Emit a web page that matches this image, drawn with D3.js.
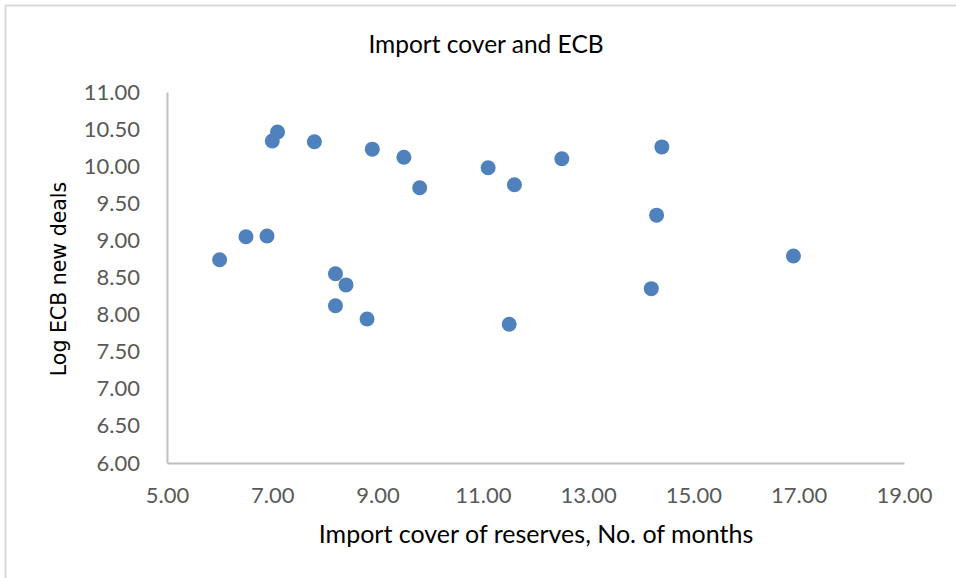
<!DOCTYPE html>
<html><head><meta charset="utf-8">
<script src="https://cdn.jsdelivr.net/npm/d3@7"></script>
<style>body{margin:0;background:#fff;}svg{display:block;}</style>
</head><body>
<script>
const xValues = [6.0, 6.5, 6.9, 7.0, 7.1, 7.8, 8.9, 9.5, 9.8, 8.2, 8.4, 8.2, 8.8, 11.1, 11.6, 11.5, 12.5, 14.4, 14.3, 14.2, 16.9];
const yValues = [8.74, 9.05, 9.06, 10.34, 10.46, 10.33, 10.23, 10.12, 9.71, 8.55, 8.40, 8.12, 7.94, 9.98, 9.75, 7.87, 10.10, 10.26, 9.34, 8.35, 8.79];
const xTicks = [5, 7, 9, 11, 13, 15, 17, 19];
const yTicks = [6, 6.5, 7, 7.5, 8, 8.5, 9, 9.5, 10, 10.5, 11];
const titleText = "Import cover and ECB";
const xTitle = "Import cover of reserves, No. of months";
const yTitle = "Log ECB new deals";

const W = 956, H = 578;
const svg = d3.select("body").append("svg").attr("width", W).attr("height", H);
svg.append("rect").attr("x", 5.5).attr("y", 5.5).attr("width", 980).attr("height", 600)
  .attr("fill", "#fff").attr("stroke", "#d9d9d9").attr("stroke-width", 2);

const x = d3.scaleLinear().domain([5, 19]).range([167, 904]);
const y = d3.scaleLinear().domain([6, 11]).range([463, 92]);
const font = "Lato, 'Open Sans', sans-serif";

const gx = svg.append("g").attr("transform", "translate(0,463)")
  .call(d3.axisBottom(x).tickValues(xTicks).tickFormat(d3.format(".2f")).tickSize(0).tickPadding(24));
gx.select(".domain").attr("stroke", "#bfbfbf").attr("stroke-width", 2);
gx.selectAll("text").attr("fill", "#595959").attr("font-size", 22).attr("font-family", font);

const gy = svg.append("g").attr("transform", "translate(167,0)")
  .call(d3.axisLeft(y).tickValues(yTicks).tickFormat(d3.format(".2f")).tickSize(0).tickPadding(27));
gy.select(".domain").attr("stroke", "#bfbfbf").attr("stroke-width", 2);
gy.selectAll("text").attr("fill", "#595959").attr("font-size", 22).attr("font-family", font);

svg.append("g").selectAll("circle").data(xValues.map((v, i) => [v, yValues[i]])).join("circle")
  .attr("cx", d => x(d[0])).attr("cy", d => y(d[1])).attr("r", 7.5)
  .attr("fill", "#4f81bd");

svg.append("text").attr("x", 486).attr("y", 53).attr("text-anchor", "middle")
  .attr("font-family", font).attr("font-size", 24.5).attr("fill", "#000").text(titleText);
svg.append("text").attr("x", 536).attr("y", 543).attr("text-anchor", "middle")
  .attr("font-family", font).attr("font-size", 25).attr("fill", "#000").text(xTitle);
svg.append("text").attr("transform", "translate(66,279) rotate(-90)").attr("text-anchor", "middle")
  .attr("font-family", "'DejaVu Sans', Verdana, sans-serif").attr("font-size", 20.5).attr("fill", "#000").text(yTitle);
</script>
</body></html>
